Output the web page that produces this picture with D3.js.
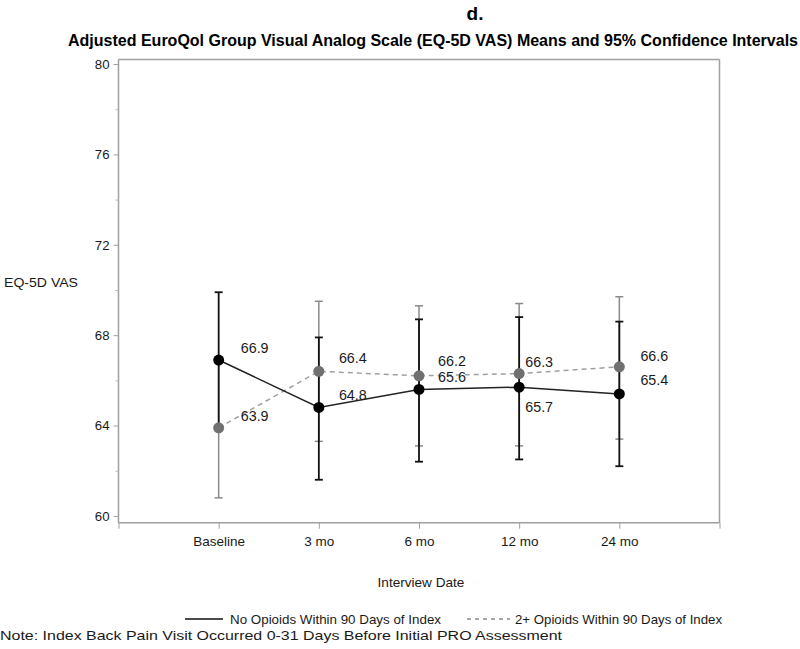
<!DOCTYPE html>
<html>
<head>
<meta charset="utf-8">
<script src="https://cdn.jsdelivr.net/npm/d3@7"></script>
<style>
  html, body { margin: 0; padding: 0; background: #fff; }
  svg { display: block; font-family: Arial, "Liberation Sans", sans-serif; }
</style>
</head>
<body>
<svg id="chart" width="800" height="649"></svg>
<script>
// ---- data ----
const categories = ["Baseline", "3 mo", "6 mo", "12 mo", "24 mo"];
const noOpioidMean  = [66.9, 64.8, 65.6, 65.7, 65.4];
const noOpioidLower = [63.9, 61.6, 62.4, 62.5, 62.2];
const noOpioidUpper = [69.9, 67.9, 68.7, 68.8, 68.6];
const opioidMean  = [63.9, 66.4, 66.2, 66.3, 66.6];
const opioidLower = [60.8, 63.3, 63.1, 63.1, 63.4];
const opioidUpper = [67.0, 69.5, 69.3, 69.4, 69.7];
const yTicks = [60, 64, 68, 72, 76, 80];
const yMinorTicks = [62, 66, 70, 74, 78];
const seriesNames = ["No Opioids Within 90 Days of Index", "2+ Opioids Within 90 Days of Index"];

// ---- label placement (style) ----
const labelDx = [36, 34, 33, 20, 35];
const blackLabelDy = [-12, -12, -12, 20, -14];
const grayLabelDy = [-12, -13, -15, -12, -11];

const svg = d3.select("#chart");
const x = d3.scaleLinear().domain([0, categories.length + 1]).range([118.5, 719.5]);
const y = d3.scaleLinear().domain([59.7, 80.2]).range([522.7, 59.5]);

const axisColor = "#a0a0a0";
const textColor = "#1a1a1a";

// frame (top and right)
svg.append("line").attr("x1", x(0)).attr("x2", x(6)).attr("y1", y(80.2)).attr("y2", y(80.2))
  .attr("stroke", axisColor).attr("stroke-width", 1.5);
svg.append("line").attr("x1", x(6)).attr("x2", x(6)).attr("y1", y(80.2)).attr("y2", y(59.7))
  .attr("stroke", axisColor).attr("stroke-width", 1.5);

// left axis
const yAxis = d3.axisLeft(y).tickValues(yTicks).tickSize(5).tickPadding(4).tickFormat(d3.format("d"));
const gy = svg.append("g").attr("transform", `translate(${x(0)},0)`).call(yAxis);
gy.select(".domain").attr("stroke", axisColor).attr("stroke-width", 1.5).attr("d", `M0,${y(80.2)}V${y(59.7)}`);
gy.selectAll(".tick line").attr("stroke", axisColor);
gy.selectAll(".tick text").attr("fill", textColor).attr("font-size", 13.2).attr("font-family", "Arial, Liberation Sans, sans-serif");
const gyMinor = svg.append("g").attr("transform", `translate(${x(0)},0)`)
  .call(d3.axisLeft(y).tickValues(yMinorTicks).tickSize(3).tickFormat(""));
gyMinor.select(".domain").remove();
gyMinor.selectAll(".tick line").attr("stroke", "#b8b8b8");

// bottom axis
const xAxis = d3.axisBottom(x).tickValues(d3.range(0, categories.length + 2)).tickSize(6).tickPadding(8)
  .tickFormat(d => (d >= 1 && d <= categories.length) ? categories[d - 1] : "");
const gx = svg.append("g").attr("transform", `translate(0,${y(59.7)})`).call(xAxis);
gx.select(".domain").attr("stroke", axisColor).attr("stroke-width", 1.5).attr("d", `M${x(0)},0H${x(6)}`);
gx.selectAll(".tick line").attr("stroke", axisColor);
gx.selectAll(".tick text").attr("fill", textColor).attr("font-size", 13.5).attr("font-family", "Arial, Liberation Sans, sans-serif");

// axis titles
svg.append("text").attr("x", 4).attr("y", 287).attr("font-size", 13.5).attr("fill", textColor)
  .attr("textLength", 74).attr("lengthAdjust", "spacingAndGlyphs").text("EQ-5D VAS");
svg.append("text").attr("x", 421).attr("y", 587).attr("text-anchor", "middle").attr("font-size", 13.6)
  .attr("fill", textColor).text("Interview Date");

// titles
svg.append("text").attr("x", 475).attr("y", 20).attr("text-anchor", "middle").attr("font-size", 19)
  .attr("font-weight", "bold").attr("fill", "#000").text("d.");
svg.append("text").attr("x", 68).attr("y", 46).attr("font-size", 16).attr("font-weight", "bold")
  .attr("fill", "#000").attr("textLength", 730).attr("lengthAdjust", "spacingAndGlyphs")
  .text("Adjusted EuroQol Group Visual Analog Scale (EQ-5D VAS) Means and 95% Confidence Intervals");

// series
const idx = d3.range(categories.length);
const cap = 4;

function errorBars(lower, upper, color, width) {
  const g = svg.append("g").attr("stroke", color).attr("stroke-width", width).attr("fill", "none");
  idx.forEach(i => {
    const cx = x(i + 1);
    g.append("line").attr("x1", cx).attr("x2", cx).attr("y1", y(lower[i])).attr("y2", y(upper[i]));
    g.append("line").attr("x1", cx - cap).attr("x2", cx + cap).attr("y1", y(lower[i])).attr("y2", y(lower[i]));
    g.append("line").attr("x1", cx - cap).attr("x2", cx + cap).attr("y1", y(upper[i])).attr("y2", y(upper[i]));
  });
}
errorBars(opioidLower, opioidUpper, "#8a8a8a", 1.5);
errorBars(noOpioidLower, noOpioidUpper, "#111", 1.8);

const line = vals => d3.line().x((d, i) => x(i + 1)).y(d => y(d))(vals);
svg.append("path").attr("d", line(opioidMean)).attr("fill", "none").attr("stroke", "#a0a0a0")
  .attr("stroke-width", 1.5).attr("stroke-dasharray", "5,4");
svg.append("path").attr("d", line(noOpioidMean)).attr("fill", "none").attr("stroke", "#222")
  .attr("stroke-width", 1.5);

svg.append("g").selectAll("circle").data(opioidMean).join("circle")
  .attr("cx", (d, i) => x(i + 1)).attr("cy", d => y(d)).attr("r", 5.5).attr("fill", "#707070");
svg.append("g").selectAll("circle").data(noOpioidMean).join("circle")
  .attr("cx", (d, i) => x(i + 1)).attr("cy", d => y(d)).attr("r", 5.5).attr("fill", "#000");

// value labels
function labels(vals, dys) {
  svg.append("g").selectAll("text").data(vals).join("text")
    .attr("x", (d, i) => x(i + 1) + labelDx[i])
    .attr("y", (d, i) => y(d) + dys[i] + 5)
    .attr("text-anchor", "middle").attr("font-size", 14.3).attr("fill", textColor)
    .text(d => d3.format(".1f")(d));
}
labels(noOpioidMean, blackLabelDy);
labels(opioidMean, grayLabelDy);

// legend
const lg = svg.append("g");
lg.append("line").attr("x1", 185).attr("x2", 223).attr("y1", 619).attr("y2", 619)
  .attr("stroke", "#111").attr("stroke-width", 1.5);
lg.append("text").attr("x", 230).attr("y", 624).attr("font-size", 13.4).attr("fill", textColor)
  .attr("textLength", 211).attr("lengthAdjust", "spacingAndGlyphs").text(seriesNames[0]);
lg.append("line").attr("x1", 467).attr("x2", 510).attr("y1", 619).attr("y2", 619)
  .attr("stroke", "#8a8a8a").attr("stroke-width", 1.3).attr("stroke-dasharray", "4,4");
lg.append("text").attr("x", 515).attr("y", 624).attr("font-size", 13.4).attr("fill", textColor)
  .attr("textLength", 207).attr("lengthAdjust", "spacingAndGlyphs").text(seriesNames[1]);

// footnote
svg.append("text").attr("x", 0).attr("y", 640).attr("font-size", 13.4).attr("fill", textColor)
  .attr("textLength", 562).attr("lengthAdjust", "spacingAndGlyphs")
  .text("Note: Index Back Pain Visit Occurred 0-31 Days Before Initial PRO Assessment");
</script>
</body>
</html>
